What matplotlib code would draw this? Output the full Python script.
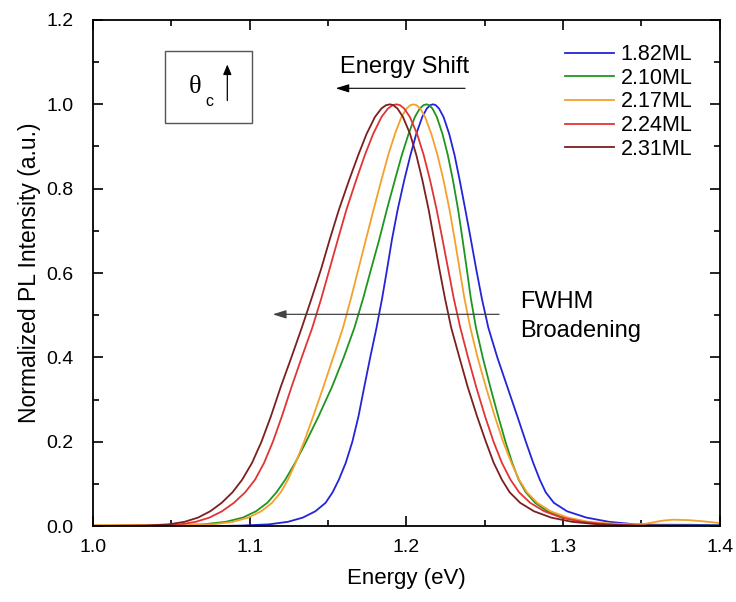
import matplotlib
matplotlib.use("Agg")
import matplotlib.pyplot as plt
from matplotlib.patches import Rectangle
from matplotlib.ticker import MultipleLocator

plt.rcParams['font.family'] = ['Liberation Sans', 'DejaVu Sans']

# -------------------------
# PL spectra.
# Each flank is given as the energy (eV) where the curve crosses the
# intensity levels below, plus the peak position and the flat tails.
# -------------------------
labels = ["1.82ML", "2.10ML", "2.17ML", "2.24ML", "2.31ML"]
colors = ["#2424d8", "#1e961e", "#f5a02c", "#e23434", "#7c1f1f"]

levels = [0.001, 0.004, 0.01, 0.02, 0.035, 0.055, 0.08, 0.11, 0.15, 0.20, 0.26, 0.33,
          0.40, 0.47, 0.54, 0.61, 0.68, 0.75, 0.82, 0.88, 0.93, 0.97, 0.99, 0.998]

# 2.31ML
left_231 = [1.0334, 1.0483, 1.0584, 1.0670, 1.0748, 1.0821, 1.0890, 1.0952, 1.1015, 1.1075,
            1.1135, 1.1198, 1.1266, 1.1332, 1.1395, 1.1456, 1.1511, 1.1569, 1.1634, 1.1693,
            1.1746, 1.1799, 1.1840, 1.1870]
peak_231 = 1.1895
right_231 = [1.1916, 1.1943, 1.1978, 1.2023, 1.2063, 1.2102, 1.2142, 1.2176, 1.2210, 1.2246,
             1.2286, 1.2338, 1.2391, 1.2451, 1.2507, 1.2557, 1.2609, 1.2659, 1.2726, 1.2814,
             1.2924, 1.3057, 1.3224, 1.3456]

# 2.24ML
left_224 = [1.0413, 1.0558, 1.0656, 1.0743, 1.0823, 1.0899, 1.0971, 1.1034, 1.1092, 1.1148,
            1.1205, 1.1267, 1.1332, 1.1399, 1.1457, 1.1510, 1.1563, 1.1617, 1.1679, 1.1735,
            1.1788, 1.1841, 1.1882, 1.1912]
peak_224 = 1.1937
right_224 = [1.1959, 1.1986, 1.2022, 1.2068, 1.2110, 1.2151, 1.2193, 1.2230, 1.2266, 1.2302,
             1.2344, 1.2393, 1.2445, 1.2502, 1.2556, 1.2609, 1.2664, 1.2719, 1.2790, 1.2880,
             1.2989, 1.3121, 1.3283, 1.3498]

# 2.10ML
left_210 = [1.0493, 1.0706, 1.0847, 1.0956, 1.1040, 1.1112, 1.1171, 1.1227, 1.1290, 1.1360,
            1.1439, 1.1525, 1.1600, 1.1668, 1.1724, 1.1775, 1.1827, 1.1875, 1.1926, 1.1971,
            1.2014, 1.2054, 1.2085, 1.2109]
peak_210 = 1.2128
right_210 = [1.2145, 1.2166, 1.2194, 1.2230, 1.2264, 1.2297, 1.2330, 1.2358, 1.2385, 1.2411,
             1.2444, 1.2487, 1.2535, 1.2586, 1.2632, 1.2675, 1.2716, 1.2762, 1.2822, 1.2900,
             1.3001, 1.3123, 1.3274, 1.3466]

# 1.82ML
left_182 = [1.0943, 1.1123, 1.1244, 1.1339, 1.1419, 1.1484, 1.1529, 1.1569, 1.1613, 1.1655,
            1.1694, 1.1731, 1.1769, 1.1809, 1.1845, 1.1877, 1.1908, 1.1944, 1.1986, 1.2026,
            1.2063, 1.2101, 1.2130, 1.2152]
peak_182 = 1.2170
right_182 = [1.2187, 1.2208, 1.2237, 1.2273, 1.2307, 1.2340, 1.2376, 1.2411, 1.2445, 1.2481,
             1.2523, 1.2580, 1.2644, 1.2708, 1.2762, 1.2809, 1.2851, 1.2889, 1.2941, 1.3025,
             1.3149, 1.3293, 1.3459]
tail_e_182 = [1.3600, 1.3800, 1.4000]
tail_i_182 = [0.003, 0.003, 0.002]

# 2.17ML (sits slightly above zero and has a small bump near 1.37 eV)
left_217 = [1.0766, 1.0892, 1.0991, 1.1074, 1.1142, 1.1198, 1.1244, 1.1293, 1.1347,
            1.1405, 1.1470, 1.1533, 1.1595, 1.1646, 1.1694, 1.1742, 1.1790, 1.1840, 1.1884,
            1.1927, 1.1968, 1.2001, 1.2025]
peak_217 = 1.2045
right_217 = [1.2064, 1.2088, 1.2119, 1.2159, 1.2198, 1.2237, 1.2275, 1.2308, 1.2339, 1.2370,
             1.2408, 1.2454, 1.2507, 1.2564, 1.2617, 1.2670, 1.2719, 1.2769, 1.2835, 1.2920,
             1.3030, 1.3162]
head_e_217 = [1.000, 1.050]
head_i_217 = [0.002, 0.003]
tail_e_217 = [1.3300, 1.3450, 1.3520, 1.3580, 1.3640, 1.3700, 1.3800, 1.3900, 1.4000]
tail_i_217 = [0.006, 0.004, 0.005, 0.009, 0.013, 0.015, 0.014, 0.011, 0.007]

down = levels[::-1]

e_231 = [1.000] + left_231 + [peak_231] + right_231 + [1.400]
i_231 = [0.000] + levels + [1.000] + down + [0.000]
e_224 = [1.000] + left_224 + [peak_224] + right_224 + [1.400]
i_224 = [0.000] + levels + [1.000] + down + [0.000]
e_210 = [1.000] + left_210 + [peak_210] + right_210 + [1.400]
i_210 = [0.001] + levels + [1.000] + down + [0.001]
e_182 = [1.000, 1.080] + left_182 + [peak_182] + right_182 + tail_e_182
i_182 = [0.000, 0.000] + levels + [1.000] + down[:-1] + tail_i_182
e_217 = head_e_217 + left_217 + [peak_217] + right_217 + tail_e_217
i_217 = head_i_217 + levels[1:] + [1.000] + down[:-2] + tail_i_217

energies = [e_182, e_210, e_217, e_224, e_231]
intensities = [i_182, i_210, i_217, i_224, i_231]

# -------------------------
# Plot
# -------------------------
fig = plt.figure(figsize=(7.36, 6.02), dpi=100)
ax = fig.add_axes([0.1264, 0.1262, 0.8516, 0.8406])

for e, i, c, lab in zip(energies, intensities, colors, labels):
    ax.plot(e, i, color=c, lw=1.3, label=lab)

ax.set_xlim(1.0, 1.4)
ax.set_ylim(0.0, 1.2)
ax.xaxis.set_major_locator(MultipleLocator(0.1))
ax.xaxis.set_minor_locator(MultipleLocator(0.05))
ax.yaxis.set_major_locator(MultipleLocator(0.2))
ax.yaxis.set_minor_locator(MultipleLocator(0.1))
ax.tick_params(which="both", direction="in", top=True, right=True, labelsize=14, width=1.2)
ax.tick_params(which="major", length=7)
ax.tick_params(which="minor", length=4)
ax.tick_params(axis="x", which="major", pad=9)
ax.tick_params(axis="y", which="major", pad=14)
for s in ax.spines.values():
    s.set_linewidth(1.3)

ax.set_xlabel("Energy (eV)", fontsize=16, labelpad=9)
ax.set_ylabel("Normalized PL Intensity (a.u.)", fontsize=16.5, labelpad=4)

ax.legend(loc="upper right", bbox_to_anchor=(0.984, 0.986), frameon=False, fontsize=15.5,
          handlelength=2.3, handletextpad=0.3, labelspacing=0.12, borderaxespad=0.4)

# inset box with theta_c and arrow
ax.add_patch(Rectangle((1.0459, 0.9564), 0.0553, 0.1707, fill=False, ec="#555555", lw=1.0))
ax.text(1.0651, 1.0422, "θ", family="Liberation Serif", fontsize=19, ha="center", va="center")
ax.text(1.0742, 1.0062, "c", fontsize=11.5, ha="center", va="center")
ax.annotate("", xy=(1.0857, 1.101), xytext=(1.0857, 1.0023),
            arrowprops=dict(arrowstyle="-|>,head_width=0.25,head_length=0.6", color="black", lw=0.9))

# energy shift arrow
ax.text(1.1576, 1.0742, "Energy Shift", fontsize=17, ha="left", va="baseline")
ax.annotate("", xy=(1.1531, 1.038), xytext=(1.2392, 1.038),
            arrowprops=dict(arrowstyle="-|>,head_width=0.25,head_length=0.8", color="black", lw=0.8))

# FWHM broadening arrow
ax.annotate("", xy=(1.1129, 0.502), xytext=(1.2609, 0.502),
            arrowprops=dict(arrowstyle="-|>,head_width=0.25,head_length=0.8", color="#444444", lw=0.9))
ax.text(1.2724, 0.5162, "FWHM", fontsize=17, ha="left", va="baseline")
ax.text(1.2724, 0.4489, "Broadening", fontsize=17, ha="left", va="baseline")

fig.savefig("out.png", dpi=100)
